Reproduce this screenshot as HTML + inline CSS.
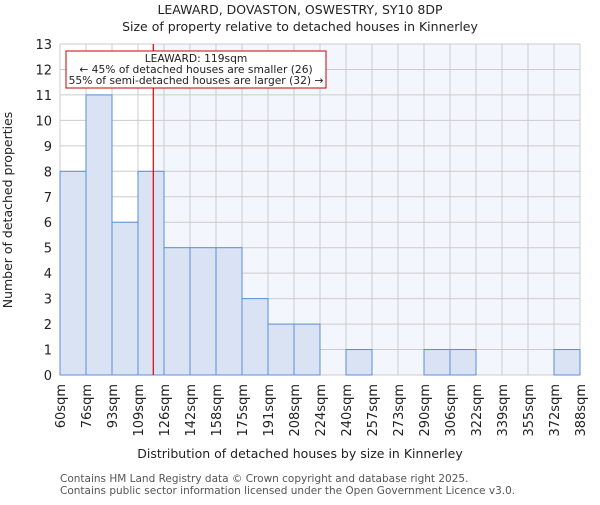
<!DOCTYPE html>
<html><head><meta charset="utf-8"><style>
body{margin:0;background:#fff;}
svg text{font-family:"DejaVu Sans","Liberation Sans",sans-serif;}
</style></head><body>
<svg id="chart" width="600" height="500" xmlns="http://www.w3.org/2000/svg">
<text x="300" y="14" text-anchor="middle" font-size="12.5" fill="#222">LEAWARD, DOVASTON, OSWESTRY, SY10 8DP</text>
<text x="300" y="31" text-anchor="middle" font-size="12.5" fill="#222">Size of property relative to detached houses in Kinnerley</text>
<g id="plot"></g>
<text x="300" y="458" text-anchor="middle" font-size="12.5" fill="#222">Distribution of detached houses by size in Kinnerley</text>
<text transform="translate(12,210) rotate(-90)" text-anchor="middle" font-size="12.5" fill="#222">Number of detached properties</text>
<text x="60" y="482" font-size="10.5" fill="#555">Contains HM Land Registry data © Crown copyright and database right 2025.</text>
<text x="60" y="494" font-size="10.5" fill="#555">Contains public sector information licensed under the Open Government Licence v3.0.</text>
</svg>
<script>
const binLabels=["60sqm","76sqm","93sqm","109sqm","126sqm","142sqm","158sqm","175sqm","191sqm","208sqm","224sqm","240sqm","257sqm","273sqm","290sqm","306sqm","322sqm","339sqm","355sqm","372sqm","388sqm"];
const binEdges=[60,76,93,109,126,142,158,175,191,208,224,240,257,273,290,306,322,339,355,372,388];
const counts=[8,11,6,8,5,5,5,3,2,2,0,1,0,0,1,1,0,0,0,1];
const yTicks=[0,1,2,3,4,5,6,7,8,9,10,11,12,13];
const markerValue=119;
const NS="http://www.w3.org/2000/svg";
const L=60,R=580,T=44,B=375,yMax=13;
const nb=counts.length;
function xIdx(i){return L+(R-L)*i/nb;}
function xVal(v){let i=0;while(i<binEdges.length-2&&v>binEdges[i+1])i++;return xIdx(i)+(v-binEdges[i])/(binEdges[i+1]-binEdges[i])*(R-L)/nb;}
function y(v){return B-(B-T)*v/yMax;}
const g=document.getElementById('plot');
function mk(t,a,p){const e=document.createElementNS(NS,t);for(const k in a)e.setAttribute(k,a[k]);(p||g).appendChild(e);return e;}
const mx=xVal(markerValue);
let e=mk('rect',{x:L,y:T,width:R-L,height:B-T,fill:'#ffffff'});


e=mk('rect',{x:mx,y:T,width:R-mx,height:B-T,fill:'#f3f6fd'});


yTicks.forEach(t=>{
 e=mk('line',{x1:L,x2:R,y1:y(t),y2:y(t),stroke:'#cccccc','stroke-width':1});
 
 
 e=mk('text',{x:L-8,y:y(t)+5,'text-anchor':'end','font-size':13,fill:'#222'});
 e.textContent=t;
 
 
});
for(let i=0;i<=nb;i++){
 e=mk('line',{x1:xIdx(i),x2:xIdx(i),y1:T,y2:B,stroke:'#cccccc','stroke-width':1});
 
 
}
counts.forEach((c,i)=>{
 if(c<=0)return;
 e=mk('rect',{x:xIdx(i),y:y(c),width:(R-L)/nb,height:B-y(c),fill:'#d9e3f4',stroke:'#5a8fd8','stroke-width':1});
 
 
});
binLabels.forEach((s,i)=>{
 const x=xIdx(i);
 e=mk('text',{transform:`translate(${x+5},384) rotate(-90)`,'text-anchor':'end','font-size':13,fill:'#222'});
 e.textContent=s;
 
 
});
e=mk('line',{x1:mx,x2:mx,y1:T,y2:B,stroke:'#dd0000','stroke-width':1.2});


e=mk('rect',{x:66,y:51,width:260,height:37,fill:'#fff',stroke:'#cc0000','stroke-width':1});


["LEAWARD: 119sqm","← 45% of detached houses are smaller (26)","55% of semi-detached houses are larger (32) →"].forEach((s,i)=>{
 e=mk('text',{x:196,y:62+i*11,'text-anchor':'middle','font-size':10.7,fill:'#222'});
 e.textContent=s;
 
 
});
</script>
</body></html>
